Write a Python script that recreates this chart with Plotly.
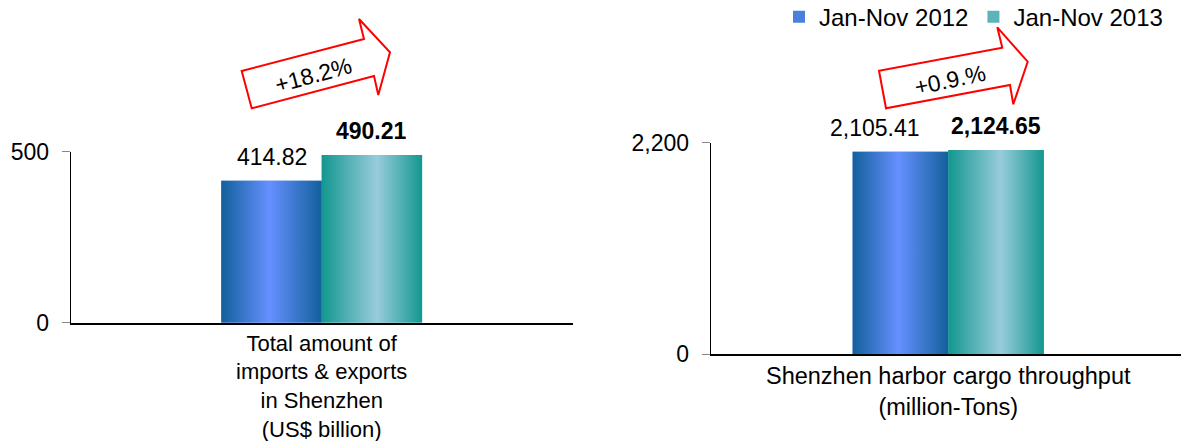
import plotly.graph_objects as go

# ---------------- data ----------------
series_names = ["Jan-Nov 2012", "Jan-Nov 2013"]
trade_category = "Total amount of<br>imports & exports<br>in Shenzhen<br>(US$ billion)"
cargo_category = "Shenzhen harbor cargo throughput<br>(million-Tons)"
trade_values = [414.82, 490.21]
cargo_values = [2105.41, 2124.65]
trade_labels = ["414.82", "490.21"]
cargo_labels = ["2,105.41", "2,124.65"]
trade_change = "+18.2%"
cargo_change = "+0.9.%"
trade_ticks = [0, 500]
cargo_ticks = [0, 2200]

# ---------------- styles ----------------
W, H = 1181, 441
FONT = "Liberation Sans, Arial, sans-serif"
BARGAP = 0.6
SLOT = (1 - BARGAP) / 2
gradients = [
    [[0, "#12609c"], [0.48, "#6690ff"], [1, "#12609c"]],
    [[0, "#13978f"], [0.55, "#98ccdc"], [1, "#13978f"]],
]
legend_colors = ["#4a80dc", "#5cb4ba"]
label_weights = ["normal", "bold"]


def px(x, y):
    return x / W, 1 - y / H


fig = go.Figure()

panels = [
    dict(xa="x", ya="y", cat=trade_category, vals=trade_values, labels=trade_labels,
         legend=True, shifts=[0, 0]),
    dict(xa="x2", ya="y2", cat=cargo_category, vals=cargo_values, labels=cargo_labels,
         legend=False, shifts=[-25, 0]),
]

annotations = []
for p in panels:
    for i, (name, v) in enumerate(zip(series_names, p["vals"])):
        # base bar (gives legend entry)
        fig.add_trace(go.Bar(
            x=[0], y=[v], name=name, xaxis=p["xa"], yaxis=p["ya"],
            marker=dict(color=legend_colors[i], line=dict(width=0)),
            offsetgroup=str(i), legendgroup=name, showlegend=p["legend"],
            hoverinfo="skip",
        ))
        # gradient overlay computed from the same value
        x0 = -(1 - BARGAP) / 2 + i * SLOT
        x1 = x0 + SLOT
        fig.add_trace(go.Scatter(
            x=[x0, x0, x1, x1, x0], y=[0, v, v, 0, 0],
            xaxis=p["xa"], yaxis=p["ya"], mode="lines", fill="toself",
            line=dict(width=0), fillgradient=dict(type="horizontal", colorscale=gradients[i]),
            showlegend=False, hoverinfo="skip",
        ))
        annotations.append(dict(
            x=(x0 + x1) / 2, y=v, xref=p["xa"], yref=p["ya"],
            text=p["labels"][i], showarrow=False, yanchor="middle", yshift=24,
            xshift=p["shifts"][i],
            font=dict(family=FONT, size=23, color="#000", weight=label_weights[i]),
        ))

# arrows
arrow_pts = [
    [(251.7, 108.3), (241.7, 71), (364, 39), (359, 19), (390, 52.3), (378.3, 95), (374, 76)],
    [(886, 108.3), (879, 70.7), (1002.3, 47.7), (997.3, 27.3), (1027.7, 61.7), (1013.3, 104.3), (1010, 85)],
]
shapes = []
for pts in arrow_pts:
    coords = [px(a, b) for a, b in pts]
    path = "M " + " L ".join(f"{cx:.5f},{cy:.5f}" for cx, cy in coords) + " Z"
    shapes.append(dict(type="path", path=path, xref="paper", yref="paper",
                       line=dict(color="#ff0000", width=2), fillcolor="white"))

for (cx, cy), txt, ang in [((313.3, 75), trade_change, -15), ((950, 80), cargo_change, -12)]:
    ax_, ay_ = px(cx, cy)
    annotations.append(dict(x=ax_, y=ay_, xref="paper", yref="paper", text=txt,
                            showarrow=False, textangle=ang, xanchor="center", yanchor="middle",
                            font=dict(family=FONT, size=23, color="#000")))

yaxis_common = dict(ticks="outside", ticklen=8, tickcolor="#888888", tickwidth=1,
                    showline=True, linecolor="#000", linewidth=1, showgrid=False,
                    zeroline=False, tickfont=dict(family=FONT, size=23, color="#000"),
                    ticklabelstandoff=8, tickformat=",", automargin=False)
xaxis_common = dict(showline=True, linecolor="#000", linewidth=1.5, showgrid=False,
                    zeroline=False, ticks="", tickvals=[0], automargin=False)

fig.update_layout(
    width=W, height=H, margin=dict(l=0, r=0, t=0, b=0, pad=0, autoexpand=False),
    paper_bgcolor="white", plot_bgcolor="white",
    barmode="group", bargap=BARGAP, bargroupgap=0,
    font=dict(family=FONT, color="#000"),
    xaxis=dict(domain=[70.7 / W, 572.7 / W], range=[-0.5, 0.5], ticktext=[trade_category],
               anchor="y", tickfont=dict(family=FONT, size=22, color="#000"), **xaxis_common),
    yaxis=dict(domain=[(H - 322.7) / H, (H - 151.7) / H], range=[0, 500],
               tickvals=trade_ticks, anchor="x", **yaxis_common),
    xaxis2=dict(domain=[710.7 / W, 1.0], range=[-0.497, 0.487], ticktext=[cargo_category],
                anchor="y2", tickfont=dict(family=FONT, size=23.5, color="#000"), **xaxis_common),
    yaxis2=dict(domain=[(H - 354.3) / H, (H - 142.7) / H], range=[0, 2200],
                tickvals=cargo_ticks, anchor="x2", **yaxis_common),
    legend=dict(orientation="h", x=779 / W, xanchor="left", y=1.012, yanchor="top",
                font=dict(family=FONT, size=24, color="#000"), bgcolor="rgba(0,0,0,0)",
                itemwidth=30),
    shapes=shapes, annotations=annotations, showlegend=True,
)

fig.write_html("out.html")
